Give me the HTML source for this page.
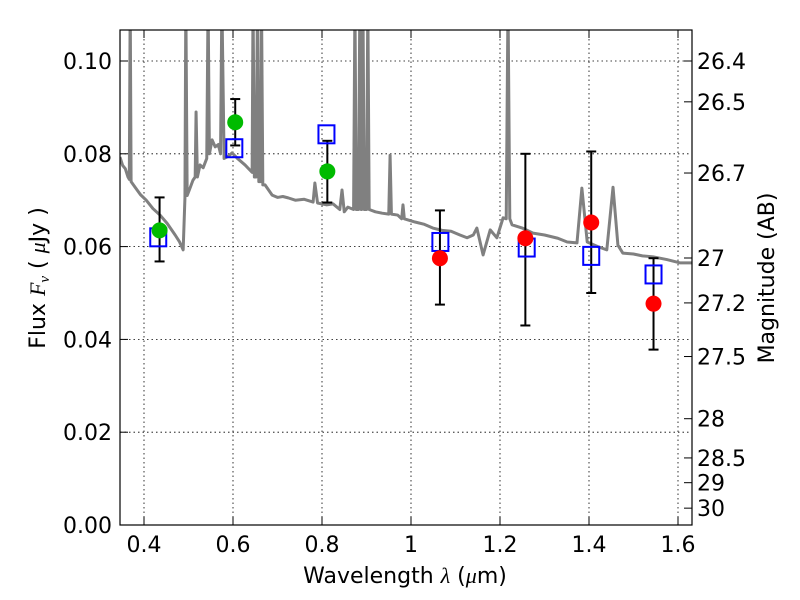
<!DOCTYPE html>
<html><head><meta charset="utf-8"><style>
html,body{margin:0;padding:0;background:#fff}
svg{display:block;font-family:"DejaVu Sans","Liberation Sans",sans-serif}
</style></head><body>
<svg id="chart" width="800" height="600" viewBox="0 0 800 600" xmlns="http://www.w3.org/2000/svg">
<rect x="0" y="0" width="800" height="600" fill="#fff"/>
<g id="grid"></g>
<defs><clipPath id="clip"><rect x="120" y="30" width="572" height="495"/></clipPath></defs>
<g id="spec" clip-path="url(#clip)"></g>
<g id="marks"></g>
<rect x="120" y="30" width="572" height="495" fill="none" stroke="#000" stroke-width="1.2"/>
<g id="axes"></g>
<text x="405" y="583" text-anchor="middle" font-size="22">Wavelength  <tspan font-style="italic" font-family="Liberation Serif, serif">λ</tspan> (<tspan font-style="italic" font-family="Liberation Serif, serif">μ</tspan>m)</text>
<text transform="translate(45,278) rotate(-90)" text-anchor="middle" font-size="22">Flux  <tspan font-style="italic" font-family="Liberation Serif, serif">F<tspan font-size="15" dy="4">ν</tspan></tspan><tspan dy="-4">  ( </tspan><tspan font-style="italic" font-family="Liberation Serif, serif">μ</tspan>Jy )</text>
<text transform="translate(774,278) rotate(-90)" text-anchor="middle" font-size="22">Magnitude (AB)</text>
</svg>
<script>
const xTicks=[0.4,0.6,0.8,1.0,1.2,1.4,1.6];
const xTickLabels=["0.4","0.6","0.8","1","1.2","1.4","1.6"];
const yTicks=[0,0.02,0.04,0.06,0.08,0.10];
const yTickLabels=["0.00","0.02","0.04","0.06","0.08","0.10"];
const magTicks=[26.4,26.5,26.7,27,27.2,27.5,28,28.5,29,30];
const magTickLabels=["26.4","26.5","26.7","27","27.2","27.5","28","28.5","29","30"];
const specWave=[0.346,0.352,0.358,0.364,0.367,0.369,0.371,0.380,0.392,0.405,0.420,0.436,0.452,0.470,0.480,0.488,0.492,0.494,0.497,0.503,0.510,0.515,0.517,0.520,0.526,0.533,0.541,0.544,0.547,0.553,0.560,0.567,0.572,0.575,0.580,0.590,0.598,0.610,0.627,0.643,0.645,0.648,0.652,0.655,0.658,0.662,0.664,0.667,0.672,0.680,0.688,0.700,0.712,0.724,0.740,0.760,0.780,0.784,0.790,0.810,0.825,0.840,0.845,0.850,0.858,0.871,0.874,0.877,0.882,0.885,0.888,0.889,0.892,0.895,0.900,0.903,0.906,0.920,0.935,0.950,0.953,0.956,0.970,0.979,0.982,0.985,1.009,1.030,1.049,1.070,1.090,1.110,1.126,1.140,1.148,1.162,1.178,1.193,1.207,1.214,1.218,1.222,1.227,1.250,1.274,1.300,1.330,1.351,1.373,1.384,1.396,1.420,1.440,1.454,1.465,1.476,1.500,1.520,1.544,1.575,1.604,1.631];
const specFlux=[0.0793,0.0775,0.0768,0.0750,0.0745,0.2,0.0740,0.0728,0.0712,0.0700,0.0682,0.0668,0.0650,0.0625,0.0610,0.0593,0.0705,0.2,0.0710,0.0725,0.0743,0.075,0.089,0.075,0.0776,0.0770,0.079,0.2,0.080,0.083,0.0815,0.082,0.080,0.2,0.079,0.0795,0.0802,0.079,0.0776,0.076,0.2,0.075,0.075,0.2,0.074,0.074,0.2,0.0733,0.0733,0.0722,0.0711,0.0706,0.0708,0.0705,0.0700,0.0702,0.0696,0.0737,0.0694,0.0690,0.0692,0.068,0.0722,0.0675,0.0685,0.068,0.2,0.068,0.068,0.2,0.068,0.068,0.2,0.068,0.068,0.2,0.068,0.0675,0.0672,0.067,0.0797,0.067,0.0668,0.066,0.069,0.066,0.0653,0.0648,0.064,0.0635,0.0633,0.0625,0.0619,0.0625,0.064,0.0582,0.0636,0.0619,0.0662,0.066,0.2,0.066,0.0647,0.0640,0.0629,0.0625,0.0618,0.061,0.0608,0.0726,0.061,0.0600,0.0593,0.0728,0.0603,0.0586,0.0584,0.0580,0.0578,0.0572,0.0565,0.0565];
const obsWave=[0.435,0.605,0.812,1.065,1.257,1.405,1.545];
const obsFlux=[0.0635,0.0868,0.0762,0.0575,0.0618,0.0652,0.0477];
const obsLow=[0.0568,0.0818,0.0695,0.0475,0.0430,0.0500,0.0378];
const obsHigh=[0.0706,0.0918,0.0828,0.0678,0.0800,0.0805,0.0575];
const obsColor=["#00bb00","#00bb00","#00bb00","#ff0000","#ff0000","#ff0000","#ff0000"];
const modelWave=[0.432,0.603,0.810,1.066,1.260,1.405,1.545];
const modelFlux=[0.0620,0.0812,0.0842,0.0610,0.0598,0.0580,0.0540];

const NS="http://www.w3.org/2000/svg";
const X=v=>144+(v-0.4)*445;
const Y=v=>525-v*4640;
const magToFlux=m=>Math.pow(10,(23.9-m)/2.5);
function mk(tag,attrs,parent){const e=document.createElementNS(NS,tag);for(const k in attrs)e.setAttribute(k,attrs[k]);parent.appendChild(e);return e;}
const grid=document.getElementById('grid'),axes=document.getElementById('axes');
xTicks.forEach((t,i)=>{
  const x=X(t);
  const g=mk('line',{x1:x,x2:x,y1:30,y2:525,stroke:'#000','stroke-width':0.8,'stroke-dasharray':'1.5,3'},grid);
  
  
  mk('line',{x1:x,x2:x,y1:525,y2:517,stroke:'#000'},axes);
  mk('line',{x1:x,x2:x,y1:30,y2:38,stroke:'#000'},axes);
  const tx=mk('text',{x:x,y:552,'text-anchor':'middle','font-size':22},axes);
  tx.textContent=xTickLabels[i];
  
  
});
yTicks.forEach((t,i)=>{
  const y=Y(t);
  if(t>0){const g=mk('line',{x1:120,x2:692,y1:y,y2:y,stroke:'#000','stroke-width':0.8,'stroke-dasharray':'1.5,3'},grid);
  
  }
  mk('line',{x1:120,x2:128,y1:y,y2:y,stroke:'#000'},axes);
  const tx=mk('text',{x:112,y:y+8,'text-anchor':'end','font-size':22},axes);
  tx.textContent=yTickLabels[i];
  
  
});
magTicks.forEach((m,i)=>{
  const y=Y(magToFlux(m));
  mk('line',{x1:684,x2:692,y1:y,y2:y,stroke:'#000'},axes);
  const tx=mk('text',{x:697,y:y+8,'font-size':22},axes);
  tx.textContent=magTickLabels[i];
  
  
});
const spec=document.getElementById('spec');
const pl=mk('polyline',{points:specWave.map((w,i)=>X(w)+','+Math.max(Y(specFlux[i]),0)).join(' '),fill:'none',stroke:'#808080','stroke-width':3,'stroke-linejoin':'round'},spec);


const marks=document.getElementById('marks');
obsWave.forEach((w,i)=>{
  const x=X(w);
  const eb=mk('g',{stroke:'#000','stroke-width':2},marks);
  
  
  mk('line',{x1:x,x2:x,y1:Y(obsLow[i]),y2:Y(obsHigh[i])},eb);
  mk('line',{x1:x-5,x2:x+5,y1:Y(obsLow[i]),y2:Y(obsLow[i])},eb);
  mk('line',{x1:x-5,x2:x+5,y1:Y(obsHigh[i]),y2:Y(obsHigh[i])},eb);
});
modelWave.forEach((w,i)=>{
  const r=mk('rect',{x:X(w)-8,y:Y(modelFlux[i])-9,width:16,height:18,fill:'none',stroke:'#0000ff','stroke-width':2},marks);
  
  
});
obsWave.forEach((w,i)=>{
  const c=mk('circle',{cx:X(w),cy:Y(obsFlux[i]),r:8,fill:obsColor[i]},marks);
  
  
});
</script>
</body></html>
